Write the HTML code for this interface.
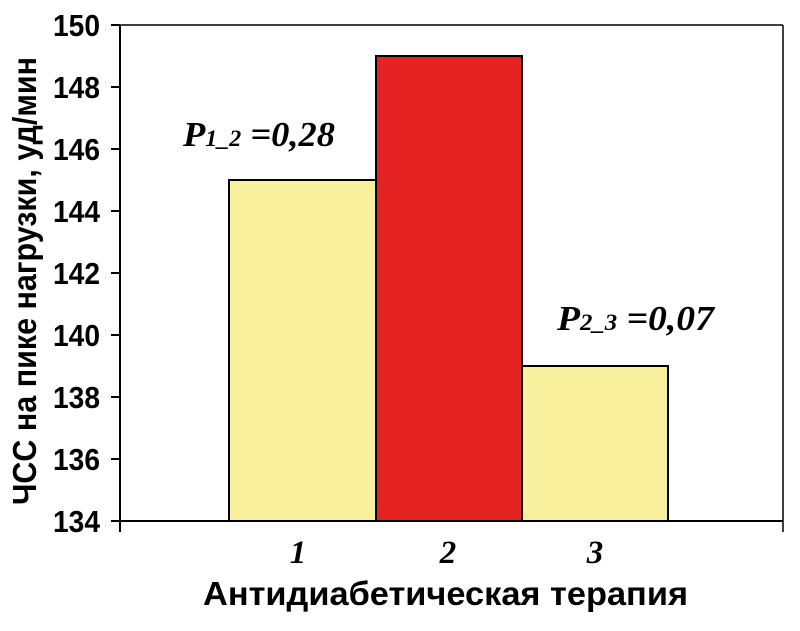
<!DOCTYPE html>
<html><head><meta charset="utf-8"><style>body{margin:0;background:#fff}</style></head>
<body>
<svg width="800" height="626" viewBox="0 0 800 626" xmlns="http://www.w3.org/2000/svg">
<rect width="800" height="626" fill="#fff"/>
<g stroke="#000" stroke-width="2" fill="none">
<rect x="229" y="180" width="147" height="341" fill="#f8f09c"/>
<rect x="376" y="56" width="146" height="465" fill="#e52322"/>
<rect x="522" y="366" width="146" height="155" fill="#f8f09c"/>
<line x1="120" y1="25" x2="120" y2="532"/>
<line x1="120" y1="521" x2="783" y2="521"/>
<line x1="120" y1="25" x2="783" y2="25" stroke-width="1.5"/>
<line x1="783" y1="25" x2="783" y2="532" stroke-width="1.5"/>
<line x1="111" y1="25" x2="120" y2="25"/>
<line x1="111" y1="87" x2="120" y2="87"/>
<line x1="111" y1="149" x2="120" y2="149"/>
<line x1="111" y1="211" x2="120" y2="211"/>
<line x1="111" y1="273" x2="120" y2="273"/>
<line x1="111" y1="335" x2="120" y2="335"/>
<line x1="111" y1="397" x2="120" y2="397"/>
<line x1="111" y1="459" x2="120" y2="459"/>
<line x1="111" y1="521" x2="120" y2="521"/>
</g>
<g font-family="Liberation Sans, sans-serif" font-weight="bold" font-size="31">
<text x="53" y="36" textLength="47" lengthAdjust="spacingAndGlyphs">150</text>
<text x="53" y="98" textLength="47" lengthAdjust="spacingAndGlyphs">148</text>
<text x="53" y="160" textLength="47" lengthAdjust="spacingAndGlyphs">146</text>
<text x="53" y="222" textLength="47" lengthAdjust="spacingAndGlyphs">144</text>
<text x="53" y="284" textLength="47" lengthAdjust="spacingAndGlyphs">142</text>
<text x="53" y="346" textLength="47" lengthAdjust="spacingAndGlyphs">140</text>
<text x="53" y="408" textLength="47" lengthAdjust="spacingAndGlyphs">138</text>
<text x="53" y="470" textLength="47" lengthAdjust="spacingAndGlyphs">136</text>
<text x="53" y="532" textLength="47" lengthAdjust="spacingAndGlyphs">134</text>
</g>
<g font-family="Liberation Serif, serif" font-weight="bold" font-style="italic" font-size="33" text-anchor="middle">
<text x="298" y="563">1</text>
<text x="448" y="563">2</text>
<text x="595" y="563">3</text>
</g>
<g font-family="Liberation Serif, serif" font-weight="bold" font-style="italic" font-size="35">
<text x="183" y="146" textLength="152" lengthAdjust="spacingAndGlyphs">P<tspan font-size="23">1_2</tspan> =0,28</text>
<text x="557" y="330" textLength="157" lengthAdjust="spacingAndGlyphs">P<tspan font-size="23">2_3</tspan> =0,07</text>
</g>
<text x="203" y="605" textLength="485" lengthAdjust="spacingAndGlyphs" font-family="Liberation Sans, sans-serif" font-weight="bold" font-size="33">Антидиабетическая терапия</text>
<text transform="translate(36,505) rotate(-90)" textLength="448" lengthAdjust="spacingAndGlyphs" font-family="Liberation Sans, sans-serif" font-weight="bold" font-size="33">ЧСС на пике нагрузки, уд/мин</text>
</svg>
</body></html>
